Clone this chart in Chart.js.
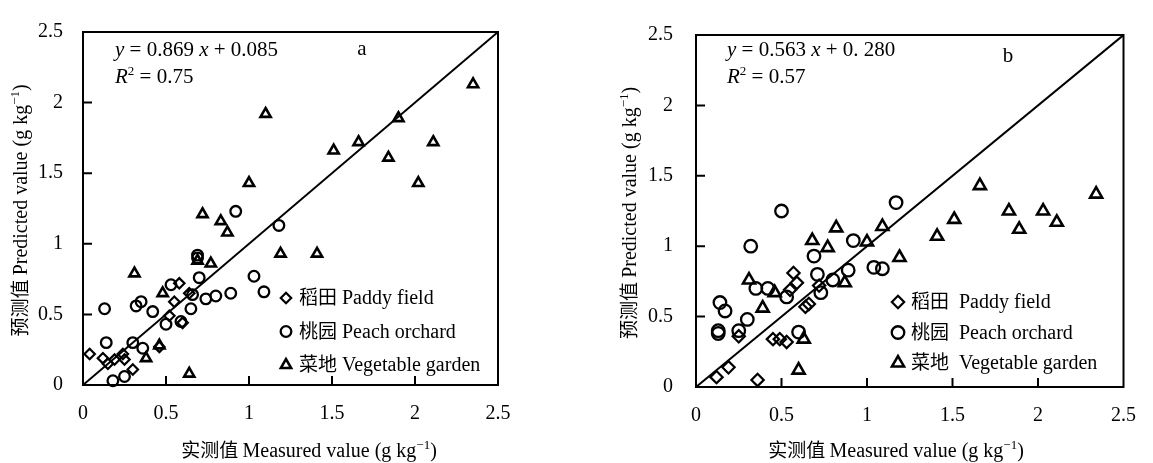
<!DOCTYPE html>
<html>
<head>
<meta charset="utf-8">
<script src="https://cdn.jsdelivr.net/npm/chart.js@4.4.1/dist/chart.umd.min.js"></script>
<style>
  body { margin: 0; background: #fff; width: 1153px; height: 463px; overflow: hidden; position: relative; }
  .panel { position: absolute; top: 0; height: 463px; }
</style>
</head>
<body>
<div class="panel" style="left:0;width:576px"><canvas id="chartA" width="576" height="463"></canvas></div>
<div class="panel" style="left:576px;width:577px"><canvas id="chartB" width="577" height="463"></canvas></div>
<script>
// tick values shared by both axes of both panels
const tickValues = [0, 0.5, 1, 1.5, 2, 2.5];
const innerTicks = [0.5, 1, 1.5, 2];
const oneToOne = [0, 2.5];

const namesCn = ['稻田', '桃园', '菜地'];
const namesEn = ['Paddy field', 'Peach orchard', 'Vegetable garden'];

// panel a  (measured x, predicted y)
const paddyA_x = [0.04, 0.12, 0.15, 0.19, 0.24, 0.25, 0.30, 0.46, 0.52, 0.55, 0.58, 0.60, 0.64];
const paddyA_y = [0.22, 0.19, 0.15, 0.18, 0.22, 0.18, 0.11, 0.27, 0.49, 0.59, 0.72, 0.44, 0.65];
const peachA_x = [0.18, 0.25, 0.14, 0.30, 0.13, 0.32, 0.35, 0.36, 0.42, 0.50, 0.53, 0.59, 0.65, 0.66, 0.70, 0.74, 0.80, 0.89, 0.69, 0.69, 0.92, 1.03, 1.09, 1.18];
const peachA_y = [0.03, 0.06, 0.30, 0.30, 0.54, 0.56, 0.59, 0.26, 0.52, 0.43, 0.71, 0.45, 0.54, 0.64, 0.76, 0.61, 0.63, 0.65, 0.92, 0.90, 1.23, 0.77, 0.66, 1.13];
const vegA_x = [0.64, 0.38, 0.46, 0.48, 0.31, 0.69, 0.77, 0.72, 0.83, 0.87, 1.00, 1.10, 1.19, 1.41, 1.51, 1.66, 1.84, 1.90, 2.02, 2.11, 2.35];
const vegA_y = [0.08, 0.19, 0.28, 0.65, 0.79, 0.88, 0.86, 1.21, 1.16, 1.08, 1.43, 1.92, 0.93, 0.93, 1.66, 1.72, 1.61, 1.89, 1.43, 1.72, 2.13];

// panel b
const paddyB_x = [0.12, 0.19, 0.36, 0.25, 0.45, 0.49, 0.53, 0.55, 0.57, 0.59, 0.64, 0.66, 0.72];
const paddyB_y = [0.07, 0.14, 0.05, 0.36, 0.34, 0.34, 0.32, 0.69, 0.81, 0.74, 0.57, 0.59, 0.72];
const peachB_x = [0.13, 0.13, 0.14, 0.17, 0.25, 0.30, 0.32, 0.50, 0.35, 0.42, 0.53, 0.60, 0.69, 0.71, 0.73, 0.80, 0.89, 0.92, 1.04, 1.09, 1.17];
const peachB_y = [0.38, 0.40, 0.60, 0.54, 0.40, 0.48, 1.00, 1.25, 0.70, 0.70, 0.64, 0.39, 0.93, 0.80, 0.67, 0.76, 0.83, 1.04, 0.85, 0.84, 1.31];
const vegB_x = [0.31, 0.39, 0.60, 0.63, 0.46, 0.68, 0.77, 0.82, 0.87, 1.00, 1.09, 1.19, 1.41, 1.51, 1.66, 1.83, 1.89, 2.03, 2.11, 2.34];
const vegB_y = [0.76, 0.56, 0.12, 0.34, 0.67, 1.04, 0.99, 1.13, 0.74, 1.03, 1.14, 0.92, 1.07, 1.19, 1.43, 1.25, 1.12, 1.25, 1.17, 1.37];

// fit results printed on the panels
const eqA = { slope: '0.869', icpt: '0.085', r2: '0.75', tag: 'a' };
const eqB = { slope: '0.563', icpt: '0. 280', r2: '0.57', tag: 'b' };

const SERIF = '"Liberation Serif", "Times New Roman", serif';
const CJK = '"Noto Sans CJK SC", sans-serif';

function fontOf(s) {
  if (s === 'cjk') return '19px ' + CJK;
  if (s === 'it') return 'italic 21px ' + SERIF;
  if (s === 'eq') return '21px ' + SERIF;
  if (s === 'sup') return '13px ' + SERIF;
  return '20px ' + SERIF;
}
function drawRich(ctx, parts, x, y, align) {
  let w = 0;
  parts.forEach(p => { ctx.font = fontOf(p[1]); w += ctx.measureText(p[0]).width; });
  let cx = align === 'center' ? x - w / 2 : x;
  ctx.textAlign = 'left';
  ctx.textBaseline = 'alphabetic';
  parts.forEach(p => {
    ctx.font = fontOf(p[1]);
    ctx.fillText(p[0], cx, p[1] === 'sup' ? y - 8 : y);
    cx += ctx.measureText(p[0]).width;
  });
}

const pts = (xs, ys) => xs.map((v, i) => ({ x: v, y: ys[i] }));

const styles = [
  { pointStyle: 'rectRot', radius: 5.5, width: 2.2 },
  { pointStyle: 'circle', radius: 5.6, width: 2.3 },
  { pointStyle: 'triangle', radius: 6.2, width: 2.6 }
];

const decoPlugin = {
  id: 'deco',
  afterDatasetsDraw(chart, args, o) {
    const ctx = chart.ctx, a = chart.chartArea;
    const xs = chart.scales.x, ys = chart.scales.y;
    ctx.save();
    ctx.strokeStyle = '#000';
    ctx.fillStyle = '#000';
    ctx.lineWidth = 2;
    ctx.strokeRect(a.left, a.top, a.right - a.left, a.bottom - a.top);
    ctx.beginPath();
    innerTicks.forEach(v => {
      const px = xs.getPixelForValue(v);
      ctx.moveTo(px, a.bottom); ctx.lineTo(px, a.bottom - 9);
      const py = ys.getPixelForValue(v);
      ctx.moveTo(a.left, py); ctx.lineTo(a.left + 9, py);
    });
    ctx.stroke();

    // axis titles
    drawRich(ctx, [['实测值 ', 'cjk'], ['Measured value (g kg', ''], ['−1', 'sup'], [')', '']], o.xTitleX, 457, 'center');
    ctx.save();
    ctx.translate(o.yTitleX, (a.top + a.bottom) / 2 + 2);
    ctx.rotate(-Math.PI / 2);
    drawRich(ctx, [['预测值 ', 'cjk'], ['Predicted value (g kg', ''], ['−1', 'sup'], [')', '']], 0, 0, 'center');
    ctx.restore();

    // regression equation + panel tag
    const e = o.eq;
    drawRich(ctx, [['y', 'it'], [' = ' + e.slope + ' ', 'eq'], ['x', 'it'], [' + ' + e.icpt, 'eq']], o.eqX, 56);
    drawRich(ctx, [['R', 'it'], ['2', 'sup'], [' = ' + e.r2, 'eq']], o.eqX, 83);
    ctx.font = fontOf('eq');
    ctx.textAlign = 'center';
    ctx.fillText(e.tag, o.tagX, o.tagY);

    // legend
    for (let i = 0; i < 3; i++) {
      const my = o.legY + i * o.legGap;
      ctx.lineWidth = styles[i].width;
      ctx.fillStyle = 'rgba(0,0,0,0)';
      Chart.helpers.drawPoint(ctx, {
        pointStyle: styles[i].pointStyle, radius: styles[i].radius * o.markScale, rotation: 0, borderWidth: styles[i].width
      }, o.legX, my);
      ctx.fillStyle = '#000';
      drawRich(ctx, [[namesCn[i], 'cjk'], [o.legSpace + namesEn[i], '']], o.legX + 13, my + 6);
    }
    ctx.restore();
  }
};

function makeChart(id, sets, pad, yAxisW, xAxisH, yPad, deco) {
  return new Chart(document.getElementById(id), {
    type: 'scatter',
    data: {
      datasets: [
        ...sets.map((s, i) => ({
          label: namesEn[i],
          data: s,
          pointStyle: styles[i].pointStyle,
          pointRadius: styles[i].radius * deco.markScale,
          pointBorderWidth: styles[i].width,
          borderColor: '#000',
          backgroundColor: 'rgba(0,0,0,0)',
          clip: false
        })),
        {
          label: '1:1',
          data: pts(oneToOne, oneToOne),
          showLine: true,
          borderColor: '#000',
          borderWidth: 2,
          pointRadius: 0
        }
      ]
    },
    options: {
      responsive: false,
      animation: false,
      layout: { padding: pad },
      scales: {
        x: {
          type: 'linear', min: 0, max: 2.5,
          afterBuildTicks: s => { s.ticks = tickValues.map(v => ({ value: v })); },
          afterFit: s => { s.height = xAxisH; },
          grid: { display: false, drawTicks: false },
          border: { display: false },
          ticks: { color: '#000', padding: 17, maxRotation: 0, callback: v => String(v), font: { family: SERIF, size: 20 } }
        },
        y: {
          type: 'linear', min: 0, max: 2.5,
          afterBuildTicks: s => { s.ticks = tickValues.map(v => ({ value: v })); },
          afterFit: s => { s.width = yAxisW; },
          grid: { display: false, drawTicks: false },
          border: { display: false },
          ticks: { color: '#000', padding: yPad, callback: v => String(v), font: { family: SERIF, size: 20 } }
        }
      },
      plugins: {
        legend: { display: false },
        tooltip: { enabled: false },
        deco: deco
      }
    },
    plugins: [decoPlugin]
  });
}

makeChart('chartA',
  [pts(paddyA_x, paddyA_y), pts(peachA_x, peachA_y), pts(vegA_x, vegA_y)],
  { top: 14, right: 78, left: 0, bottom: 0 }, 83, 78, 20,
  { xTitleX: 309, yTitleX: 27, eq: eqA, eqX: 115, tagX: 362, tagY: 55,
    legX: 286, legY: 298, legGap: 33.5, legSpace: ' ', markScale: 0.95 });

makeChart('chartB',
  [pts(paddyB_x, paddyB_y), pts(peachB_x, peachB_y), pts(vegB_x, vegB_y)],
  { top: 14, right: 25, left: 0, bottom: 0 }, 120, 76, 23,
  { xTitleX: 320, yTitleX: 60, eq: eqB, eqX: 151, tagX: 432, tagY: 62,
    legX: 322, legY: 302, legGap: 30.5, legSpace: '  ', markScale: 1.12 });
</script>
</body>
</html>
